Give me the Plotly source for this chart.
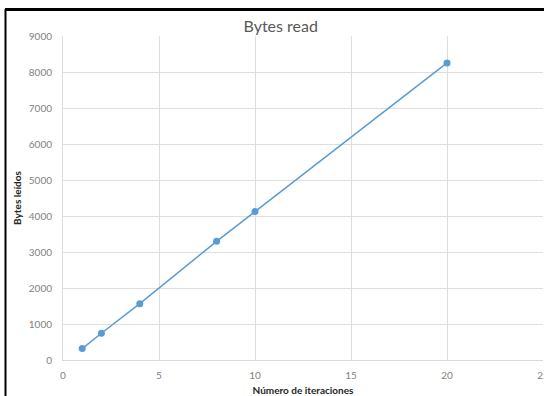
import plotly.graph_objects as go

iteraciones = [1, 2, 4, 8, 10, 20]
bytes_leidos = [316, 743, 1565, 3297, 4124, 8251]

x_ticks = [0, 5, 10, 15, 20, 25]
y_ticks = [0, 1000, 2000, 3000, 4000, 5000, 6000, 7000, 8000, 9000]

fig = go.Figure()
fig.add_trace(go.Scatter(
    x=iteraciones, y=bytes_leidos, mode="lines+markers",
    line=dict(color="#5b9bd5", width=1.5),
    marker=dict(color="#5b9bd5", size=7),
    showlegend=False,
))

font = "Lato, 'Open Sans', sans-serif"
fig.update_layout(
    width=544, height=396,
    margin=dict(l=63, r=1, t=36, b=36),
    paper_bgcolor="white", plot_bgcolor="white",
    font=dict(family=font, color="#595959", size=10),
    title=dict(text="Bytes read", x=0.516, xanchor="center", y=0.933, yanchor="middle",
               font=dict(size=16, color="#595959", family=font)),
    xaxis=dict(range=[0, 25], tickvals=x_ticks, showgrid=True, gridcolor="#dedede",
               gridwidth=1, zeroline=False, showline=True, linecolor="#d9d9d9",
               automargin=False, ticklabeloverflow="allow",
               ticks="", ticklabelstandoff=6, tickfont=dict(size=10, color="#7f7f7f"),
               title=dict(text="<b>Número de iteraciones</b>", standoff=12,
                          font=dict(size=10, color="#262626"))),
    yaxis=dict(range=[0, 9000], tickvals=y_ticks, showgrid=True, gridcolor="#dedede",
               gridwidth=1, zeroline=False, showline=True, linecolor="#dedede",
               automargin=False,
               ticks="", ticklabelstandoff=8, tickfont=dict(size=10, color="#7f7f7f"),
               title=dict(text="<b>Bytes leídos</b>", standoff=5,
                          font=dict(size=10, color="#262626"))),
)

# black frame of the screenshot (top and left edges)
fig.add_shape(type="line", xref="paper", yref="paper", x0=-58 / 480, x1=1.01,
              y0=1 + 26.5 / 324, y1=1 + 26.5 / 324, line=dict(color="black", width=3))
fig.add_shape(type="line", xref="paper", yref="paper", x0=-57.5 / 480, x1=-57.5 / 480,
              y0=1 + 27 / 324, y1=-0.2, line=dict(color="black", width=2))

fig.write_html("out.html", config={"displayModeBar": False},
               post_script="document.body.style.margin='0';")
